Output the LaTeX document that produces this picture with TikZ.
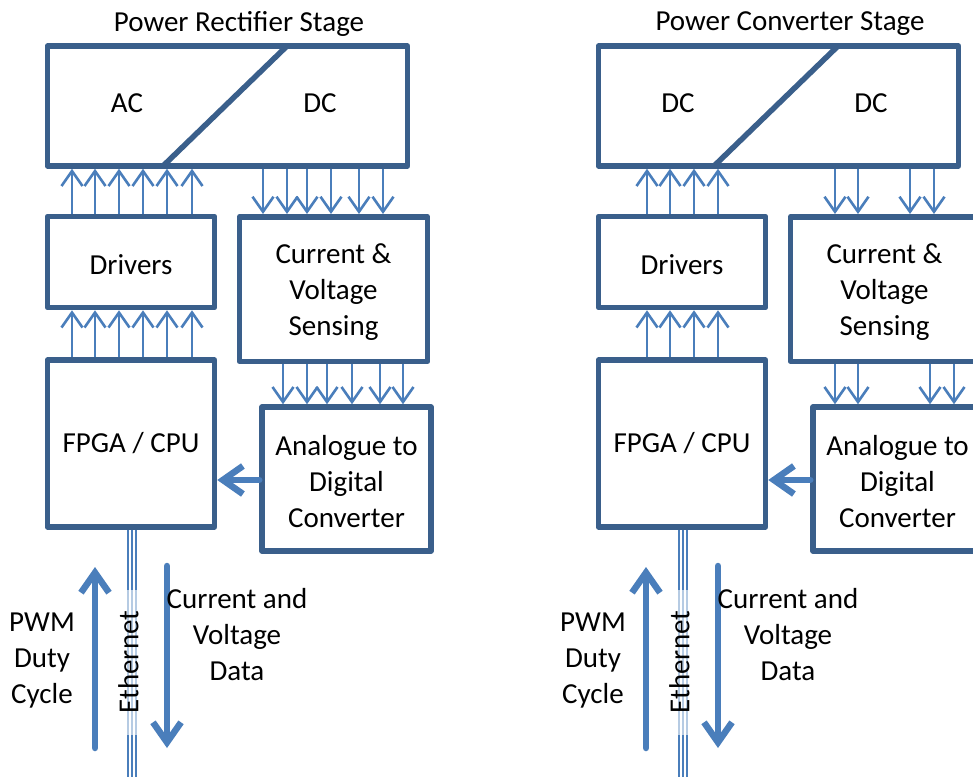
\documentclass[tikz,border=0pt]{standalone}
\usepackage{fontspec}
\setmainfont{Carlito}
\usetikzlibrary{arrows.meta}
\definecolor{boxblue}{HTML}{3A5F8B}
\definecolor{arrowblue}{HTML}{4A7EBB}

\tikzset{
  box/.style={draw=boxblue, line width=5.5pt, rectangle, inner sep=0pt,
    line join=round, fill=white},
  boxline/.style={draw=boxblue, line width=5.5pt},
  sig/.style={draw=arrowblue, line width=2.6pt,
    -{Straight Barb[length=15pt,width=21pt]}},
  big/.style={draw=arrowblue, line width=6.5pt, line cap=round,
    -{Straight Barb[length=20pt,width=28pt]}},
  cable/.style={draw=arrowblue, line width=2pt},
  label/.style={align=center, inner sep=0pt},
  boxtext/.style={label, yshift=-3pt},
}

% #1 prefix, #2 x offset, #3 title, #4/#5 converter labels,
% #6 drive lines, #7 sense lines (top), #8 sense lines (bottom)
\newcommand\drawstage[8]{%
\begin{scope}[xshift=#2pt]
  \node[box, minimum width=360pt, minimum height=120pt] (#1conv) at (227.5,106) {};
  \draw[boxline] (163,166) -- (287,46);
  \node[label] (#1inlbl) at (127,103) {#4};
  \node[label] (#1outlbl) at (320,103) {#5};
  \node[label] (#1title) at (239,24) {#3};
  \node[box, minimum width=167pt, minimum height=91pt] (#1drv) at (131,262) {};
  \node[boxtext] at (#1drv.center) {Drivers};
  \node[box, minimum width=188pt, minimum height=144.5pt] (#1sens) at (333.5,289) {};
  \node[boxtext] at (#1sens.center) {Current \&\\Voltage\\Sensing};
  \node[box, minimum width=167pt, minimum height=167pt] (#1fpga) at (131,443.5) {};
  \node[label] at (#1fpga.center) {FPGA / CPU};
  \node[box, minimum width=169pt, minimum height=144pt] (#1adc) at (346.5,479) {};
  \node[boxtext] at (#1adc.center) {Analogue to\\Digital\\Converter};
  % gate drive lines
  \foreach \x in {#6} {
    \draw[sig] (\x,0 |- #1drv.north) -- (\x,0 |- #1conv.south);
    \draw[sig] (\x,0 |- #1fpga.north) -- (\x,0 |- #1drv.south);
  }
  % sensing lines
  \foreach \x in {#7}
    \draw[sig] (\x,0 |- #1conv.south) -- (\x,0 |- #1sens.north);
  \foreach \x in {#8}
    \draw[sig] (\x,0 |- #1sens.south) -- (\x,0 |- #1adc.north);
  % ADC result into the controller
  \draw[big] (#1adc.west |- 0,480) -- (#1fpga.east |- 0,480);
  % Ethernet cable
  \coordinate (#1cableend) at (131.5,790);
  \foreach \x in {128,131.5,135.5}
    \draw[cable] (\x,0 |- #1fpga.south) -- (\x,0 |- #1cableend);
  \fill[white, opacity=0.6] (124,590) rectangle (139.5,735);
  \node[label, rotate=90] (#1eth) at (128.5,662) {Ethernet};
  % data flow over the link
  \coordinate (#1pwmfrom) at (95,748);
  \coordinate (#1pwmto) at (95,567);
  \draw[big] (#1pwmfrom) -- (#1pwmto);
  \coordinate (#1datfrom) at (167,566);
  \coordinate (#1datto) at (167,748);
  \draw[big] (#1datfrom) -- (#1datto);
  \node[label] (#1pwmlbl) at (42,661) {PWM\\Duty\\Cycle};
  \node[label] (#1datlbl) at (237,635) {Current and\\Voltage\\Data};
\end{scope}}

\begin{document}
\begin{tikzpicture}[x=1pt, y=-1pt, font=\fontsize{29}{36}\selectfont]
  \useasboundingbox (0,0) rectangle (973,776);
  \clip (0,0) rectangle (973,776);
  \fill[white] (0,0) rectangle (973,776);
  \drawstage{r}{0}{Power Rectifier Stage}{AC}{DC}
    {72,95,119,143,167,192}{263,287,307,331,359,383}{283,307,327,352,380,403}
  \drawstage{c}{551}{Power Converter Stage}{DC}{DC}
    {96,119,143,167}{284,307,359,383}{284,307,379,403}
\end{tikzpicture}
\end{document}
